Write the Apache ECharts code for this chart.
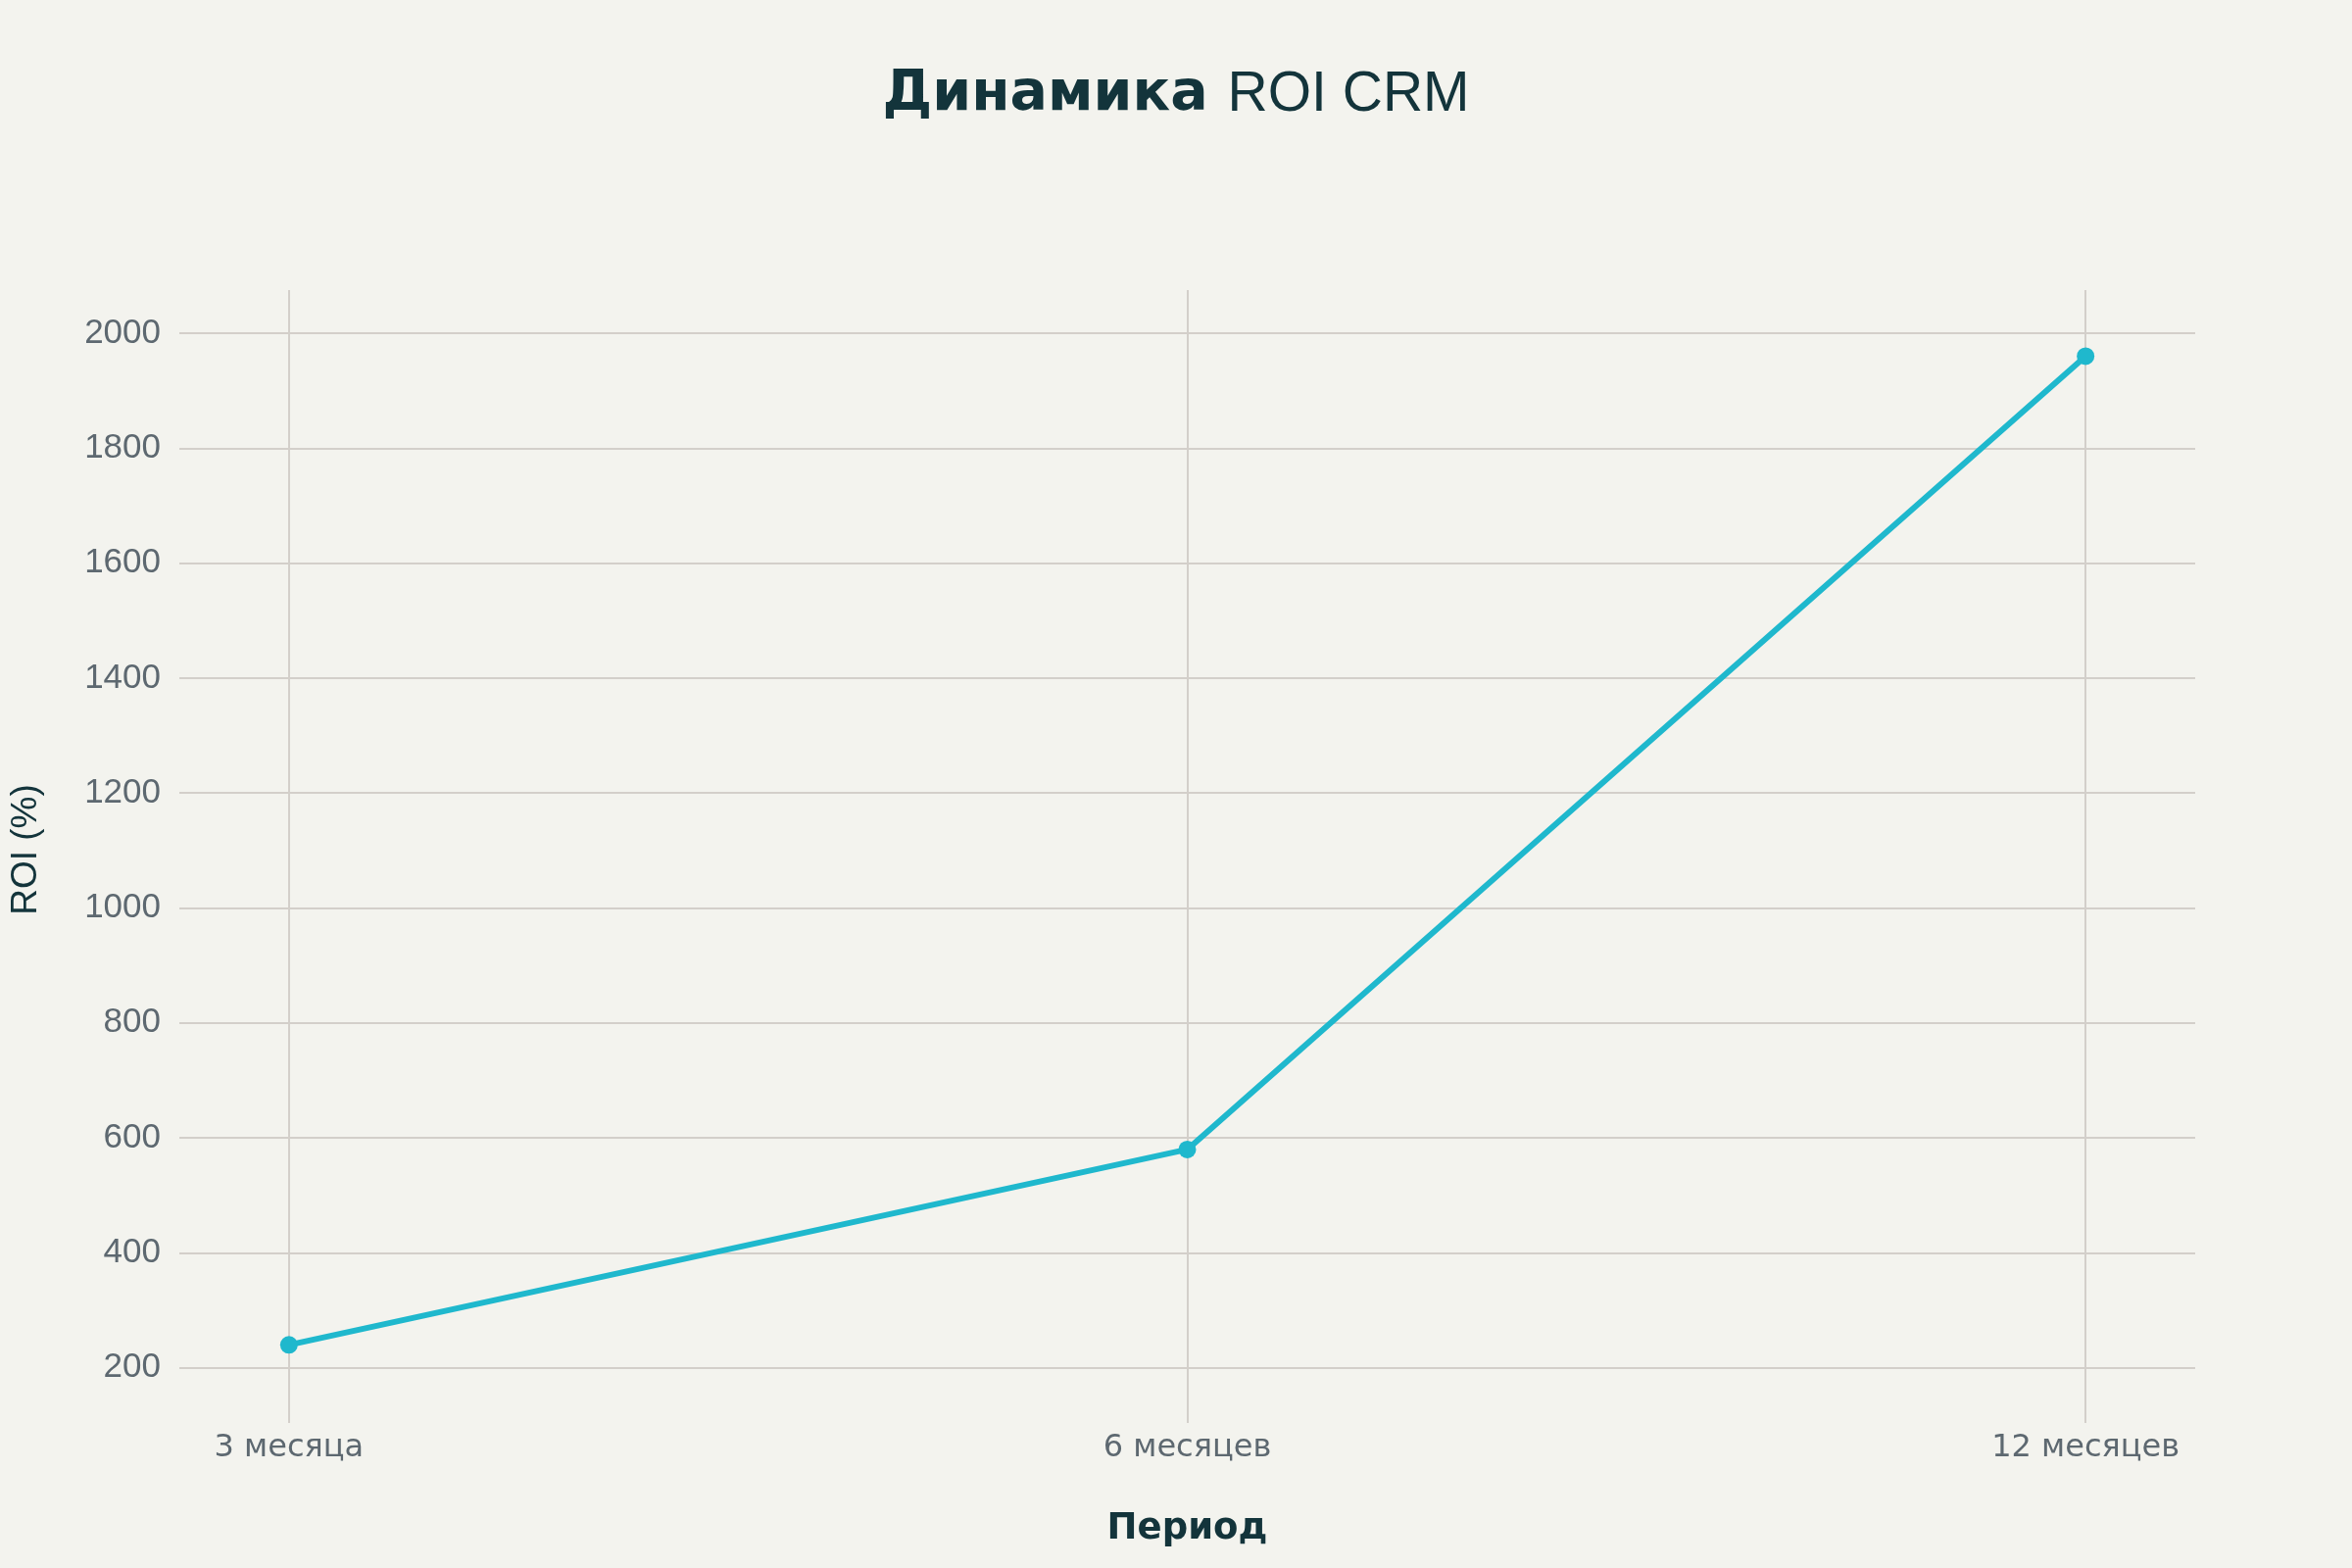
<!DOCTYPE html>
<html>
<head>
<meta charset="utf-8">
<script src="https://cdn.jsdelivr.net/npm/echarts@6/dist/echarts.min.js"></script>
<style>
  html, body { margin: 0; padding: 0; background: #f3f3ee; }
  #chart { width: 2400px; height: 1600px; }
</style>
</head>
<body>
<div id="chart"></div>
<script>
// данные графика
const periods = ['3 месяца', '6 месяцев', '12 месяцев']
const roiValues = [240, 580, 1960]
const yTicks = [200, 400, 600, 800, 1000, 1200, 1400, 1600, 1800, 2000]
const xTicks = [0, 1, 2]

const gridColor = '#d3cfca'
const latin = '"Liberation Sans", Arial, sans-serif'
const cyr = '"DejaVu Sans", sans-serif'

let chart = echarts.init(document.getElementById('chart'))

let option = {
  backgroundColor: '#f3f3ee',
  title: {
    text: '{b|Динамика }{n|ROI CRM}',
    left: 'center',
    top: 64,
    textStyle: {
      rich: {
        b: { fontFamily: cyr, fontWeight: 'bold', fontSize: 57, color: '#13343b' },
        n: { fontFamily: latin, fontWeight: 'normal', fontSize: 57, color: '#13343b' },
      },
    },
  },
  grid: {
    left: 182,
    right: 160,
    top: 296,
    bottom: 162,
  },
  xAxis: {
    type: 'value',
    min: -0.122,
    max: 2.122,
    name: 'Период',
    nameLocation: 'middle',
    nameGap: 104,
    nameTextStyle: { fontFamily: cyr, fontWeight: 'bold', fontSize: 37, color: '#13343b' },
    axisLine: { show: false },
    axisTick: {
      show: true,
      customValues: xTicks,
      length: 14,
      lineStyle: { color: gridColor, width: 2 },
    },
    axisLabel: {
      customValues: xTicks,
      margin: 24,
      fontFamily: cyr,
      fontSize: 32,
      color: '#5d6870',
      formatter: (v) => periods[Math.round(v)],
    },
    splitLine: { show: true, lineStyle: { color: gridColor, width: 2 } },
  },
  yAxis: {
    type: 'value',
    min: 128,
    max: 2075,
    name: 'ROI (%)',
    nameLocation: 'middle',
    nameGap: 138,
    nameTextStyle: { fontFamily: latin, fontSize: 37, color: '#13343b' },
    axisLine: { show: false },
    axisTick: {
      show: true,
      customValues: yTicks,
      length: 12,
      lineStyle: { color: gridColor, width: 2 },
    },
    axisLabel: {
      customValues: yTicks,
      margin: 19,
      fontFamily: latin,
      fontSize: 35,
      color: '#5d6870',
      formatter: (v) => String(v),
    },
    splitLine: { show: true, lineStyle: { color: gridColor, width: 2 } },
  },
  series: [
    {
      type: 'line',
      data: roiValues.map((v, i) => [i, v]),
      symbol: 'circle',
      symbolSize: 18,
      lineStyle: { color: '#1fb8cd', width: 6 },
      itemStyle: { color: '#1fb8cd' },
      animation: false,
    },
  ],
}
chart.setOption(option)
</script>
</body>
</html>
